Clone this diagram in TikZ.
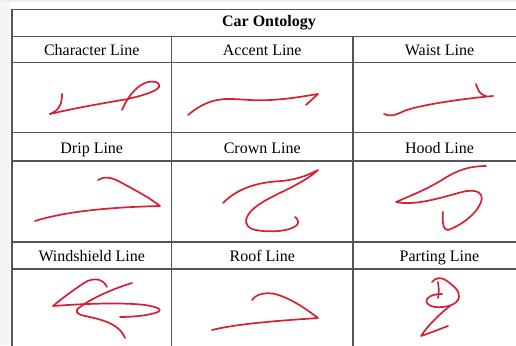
\documentclass[tikz,border=0pt]{standalone}
\usepackage{fontspec}
\setmainfont{Liberation Serif}
\definecolor{rulegray}{HTML}{555555}
\definecolor{ink}{RGB}{214,32,52}
\begin{document}
\begin{tikzpicture}[x=1pt,y=-1pt,
  tablerule/.style={draw=rulegray,line width=1.2pt},
  sketch/.style={draw=ink,line width=1.7pt,line cap=round,line join=round},
  head/.style={font=\fontsize{16}{19}\selectfont,anchor=base,inner sep=0pt},
  titletext/.style={font=\fontsize{16}{19}\selectfont\bfseries,anchor=base,inner sep=0pt}]
\useasboundingbox (0,0) rectangle (516,345);
\fill[white] (0,0) rectangle (516,345);
\fill[black!7] (0,0) rectangle (516,2.5);
\fill[black!4] (0,2.5) rectangle (10,345);

% table rules
\foreach \yy in {9.5,36.5,62.5,132.5,161,242,269}
  \draw[tablerule] (12,\yy) -- (526,\yy);
\draw[tablerule] (12,9.5) -- (12,360);
\draw[tablerule] (171.5,36.5) -- (171.5,360);
\draw[tablerule] (353,36.5) -- (353,360);

% title and column headings
\node[titletext] (title) at (269,27) {Car Ontology};
\node[head] (character) at (91.75,55.7) {Character Line};
\node[head] (accent) at (262.25,55.7) {Accent Line};
\node[head] (waist) at (439.5,55.7) {Waist Line};
\node[head] (drip) at (91.75,153) {Drip Line};
\node[head] (crown) at (262.25,153) {Crown Line};
\node[head] (hood) at (439.5,153) {Hood Line};
\node[head] (windshield) at (91.75,261.7) {Windshield Line};
\node[head] (roof) at (262.25,261.7) {Roof Line};
\node[head] (parting) at (439.5,261.7) {Parting Line};

% character line
\draw[sketch] (62,94) .. controls (62,103) and (60,110) .. (50,114);
\draw[sketch] (50,114) .. controls (75,108) and (110,102) .. (128,99)
  .. controls (140,96) and (156,92) .. (159,87)
  .. controls (161,81) and (150,80) .. (143,84)
  .. controls (135,88) and (127,98) .. (122,110);

% accent line
\draw[sketch] (188,115) .. controls (200,105) and (212,99) .. (228,99)
  .. controls (245,99) and (250,101) .. (270,100)
  .. controls (290,99) and (305,96) .. (318,94) -- (306,105);

% waist line
\draw[sketch] (384,114) .. controls (390,117) and (396,115) .. (404,111)
  .. controls (420,105) and (460,99) .. (493,96);
\draw[sketch] (476,84) .. controls (478,90) and (479,94) .. (486,96);

% drip line
\draw[sketch] (98,180) .. controls (104,176) and (112,177) .. (122,183)
  .. controls (135,190) and (150,198) .. (160,206)
  .. controls (120,207) and (70,210) .. (35,221);

% crown line
\draw[sketch] (223,203) .. controls (240,186) and (262,182) .. (282,181)
  .. controls (300,179) and (310,174) .. (318,170)
  .. controls (305,182) and (285,190) .. (270,198)
  .. controls (250,208) and (238,222) .. (252,229)
  .. controls (265,233) and (290,232) .. (297,225)
  .. controls (299,222) and (298,219) .. (295,217);

% hood line
\draw[sketch] (486,166) .. controls (470,166) and (458,170) .. (445,178)
  .. controls (430,188) and (410,196) .. (396,202)
  .. controls (415,206) and (440,198) .. (462,192)
  .. controls (478,188) and (484,194) .. (481,202)
  .. controls (477,214) and (460,226) .. (448,230)
  .. controls (443,231) and (442,220) .. (443,212);

% windshield line
\draw[sketch] (107,287) .. controls (104,280) and (95,276) .. (84,283)
  .. controls (72,291) and (60,300) .. (53,306)
  .. controls (80,304) and (120,302) .. (145,305)
  .. controls (158,307) and (165,310) .. (155,313)
  .. controls (145,316) and (130,317) .. (120,317);
\draw[sketch] (132,283) .. controls (115,288) and (92,298) .. (80,307)
  .. controls (74,311) and (76,314) .. (85,316)
  .. controls (105,320) and (120,325) .. (125,338);

% roof line
\draw[sketch] (252,300) .. controls (256,294) and (266,292) .. (275,294)
  .. controls (290,298) and (305,308) .. (318,318)
  .. controls (290,320) and (240,323) .. (212,330);

% parting line
\draw[sketch] (432,282) .. controls (436,277) and (442,277) .. (447,281)
  .. controls (452,285) and (460,290) .. (459,297)
  .. controls (458,305) and (445,308) .. (435,307)
  .. controls (428,306) and (425,302) .. (427,299)
  .. controls (430,295) and (436,294) .. (442,294);
\draw[sketch] (438,282) .. controls (439,288) and (439,293) .. (438,298);
\draw[sketch] (450,306) .. controls (442,312) and (428,325) .. (421,336)
  .. controls (430,333) and (440,329) .. (448,326);
\end{tikzpicture}
\end{document}
